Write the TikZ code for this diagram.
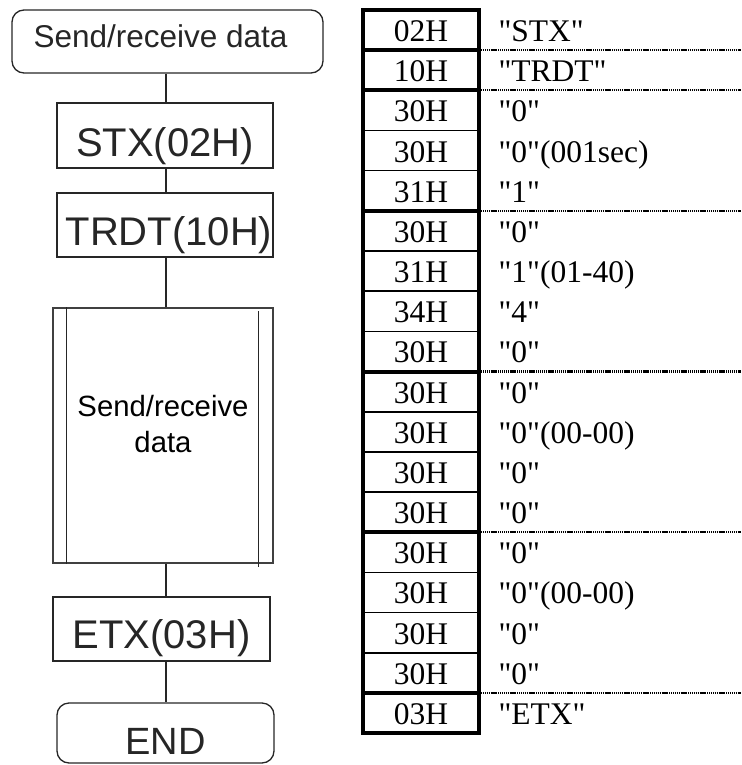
\documentclass[tikz,border=0pt]{standalone}
\usepackage{fontspec}
\newfontfamily\tablefont{Liberation Serif}
\newfontfamily\flowfont{Liberation Sans}

\begin{document}
\begin{tikzpicture}[x=1pt, y=-1pt, line width=1.2pt,
  flowline/.style={line width=1.3pt, black!85},
  termbox/.style={draw, flowline, rounded corners=12pt, inner sep=0pt, text depth=0pt},
  procbox/.style={draw, flowline, inner sep=0pt, text depth=0pt, text height=42pt,
    font=\flowfont\fontsize{40}{44}\selectfont},
  cellline/.style={line width=1.6pt},
  groupline/.style={line width=4pt},
  sepline/.style={line width=2.2pt, dash pattern=on 1.2pt off 0.7pt},
  hexcode/.style={anchor=base, inner sep=0pt, font=\tablefont\fontsize{31.5}{34}\selectfont},
  asciival/.style={anchor=base west, inner sep=0pt, font=\tablefont\fontsize{31.5}{34}\selectfont}]
  \useasboundingbox (0,0) rectangle (741,765);
  \def\rowh{40.17}
  % 흐름도 -- 세로 중심선
  \coordinate (spine) at (166,0);
  \node[termbox, minimum width=311, minimum height=63, text height=12pt,
    font=\flowfont\fontsize{31.5}{36}\selectfont] (start) at (167.5,41.5) {Send/receive data\hspace*{14pt}};
  \node[procbox, minimum width=216, minimum height=65] (stx) at (165,135.5) {STX(02H)};
  \node[procbox, minimum width=216, minimum height=64, text height=40pt] (trdt) at (165,225) {\hspace*{8pt}TRDT(10H)};
  % 서브루틴 상자
  \node[draw, flowline, black!75, minimum width=220, minimum height=255] (sub) at (163,435.5) {};
  \draw[flowline] ([xshift=14pt]sub.north west) -- ([xshift=14pt]sub.south west);
  \draw[flowline] ([xshift=-15pt, yshift=-4pt]sub.north east) -- ([xshift=-15pt, yshift=-3pt]sub.south east);
  \node[font=\flowfont\fontsize{29.3}{36}\selectfont, align=center, inner sep=0pt] (subtext) at (163,424) {Send/receive\\data};
  \node[procbox, minimum width=217, minimum height=64, text height=39pt] (etx) at (161.5,629) {ETX(03H)};
  \node[termbox, minimum width=217, minimum height=60, text height=43pt,
    font=\flowfont\fontsize{38}{42}\selectfont] (end) at (165.5,733) {END};
  % 상자를 잇는 선
  \foreach \a/\b in {start/stx, stx/trdt, trdt/sub, sub/etx, etx/end}
    \draw[flowline] (spine |- \a.south) -- (spine |- \b.north);
  % 표 -- 칸 나누기
  \foreach \i in {1,...,17}
    \draw[cellline] (363,10+\i*\rowh) -- (479,10+\i*\rowh);
  % 묶음 경계 (굵은 선과 점선)
  \foreach \i in {1,2,5,9,13,17}{
    \draw[groupline] (363,10+\i*\rowh) -- (479,10+\i*\rowh);
    \draw[sepline] (481,10+\i*\rowh) -- (741,10+\i*\rowh);
  }
  \draw[groupline] (363,10) rectangle (479,733);
  % 코드와 문자
  \foreach \hex/\val [count=\i from 0] in {02H/"STX", 10H/"TRDT", 30H/"0", 30H/"0"(001sec),
      31H/"1", 30H/"0", 31H/"1"(01-40), 34H/"4", 30H/"0", 30H/"0", 30H/"0"(00-00),
      30H/"0", 30H/"0", 30H/"0", 30H/"0"(00-00), 30H/"0", 30H/"0", 03H/"ETX"}{
    \node[hexcode] (hex\i) at (421,10+\i*\rowh+\rowh/2+11.5) {\hex};
    \node[asciival] (val\i) at (498,10+\i*\rowh+\rowh/2+11.5) {\val};
  }
\end{tikzpicture}
\end{document}
